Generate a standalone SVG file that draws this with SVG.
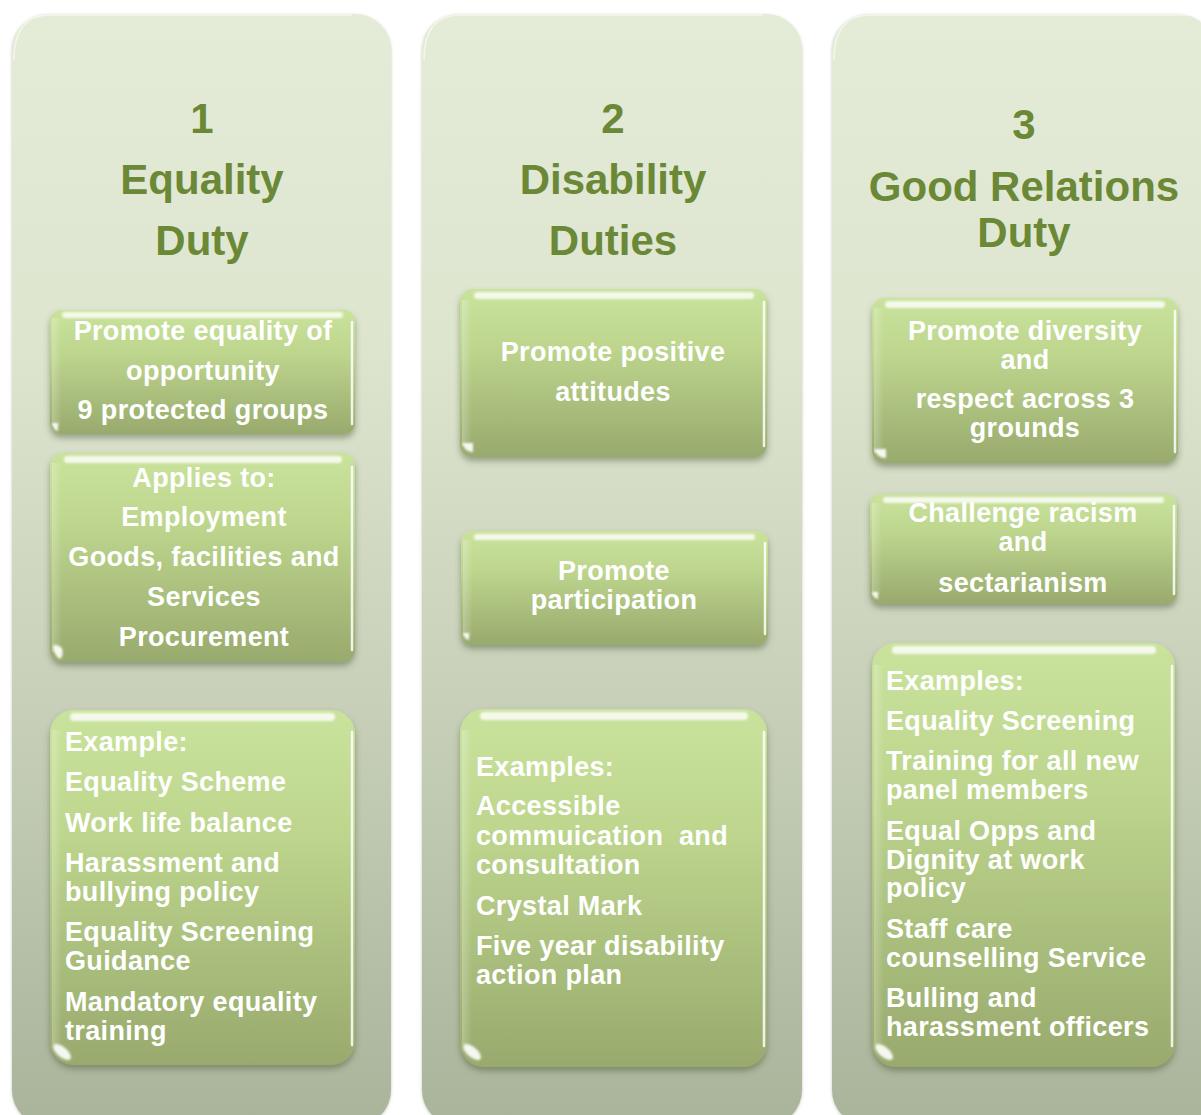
<svg xmlns="http://www.w3.org/2000/svg" width="1201" height="1115" viewBox="0 0 1201 1115">
  <defs>
    <!-- column panel: pale green fading to grey-green -->
    <linearGradient id="colGrad" x1="0" y1="0" x2="0" y2="1">
      <stop offset="0" stop-color="#e4ecd8"/>
      <stop offset="0.3" stop-color="#dde5cf"/>
      <stop offset="0.6" stop-color="#c9d1bb"/>
      <stop offset="1" stop-color="#a9b49b"/>
    </linearGradient>
    <!-- glossy lime box fill -->
    <linearGradient id="boxGrad" x1="0" y1="0" x2="0" y2="1">
      <stop offset="0" stop-color="#cae39c"/>
      <stop offset="0.35" stop-color="#bdd58d"/>
      <stop offset="1" stop-color="#98aa6d"/>
    </linearGradient>
    <linearGradient id="leftBand" x1="0" y1="0" x2="1" y2="0">
      <stop offset="0" stop-color="#ffffff" stop-opacity="0.25"/>
      <stop offset="1" stop-color="#ffffff" stop-opacity="0"/>
    </linearGradient>
    <filter id="colShadow" x="-5%" y="-5%" width="110%" height="110%">
      <feDropShadow dx="0" dy="1" stdDeviation="1.5" flood-color="#8a9678" flood-opacity="0.5"/>
    </filter>
    <filter id="boxShadow" x="-10%" y="-10%" width="120%" height="130%">
      <feDropShadow dx="0" dy="4" stdDeviation="3" flood-color="#44552a" flood-opacity="0.45"/>
    </filter>
    <filter id="soft" x="-20%" y="-50%" width="140%" height="200%">
      <feGaussianBlur stdDeviation="1.2"/>
    </filter>
  </defs>
  <style>
    .col { fill: url(#colGrad); filter: url(#colShadow); }
    .colEdge { fill: none; stroke: #ffffff; stroke-opacity: 0.55; stroke-width: 1.5; }
    .title { font-family: "Liberation Sans", Arial, sans-serif; font-weight: bold; font-size: 42px; fill: #6b8837; text-anchor: middle; }
    .fill { fill: url(#boxGrad); filter: url(#boxShadow); }
    .band { fill: url(#leftBand); }
    .gloss { fill: #ffffff; fill-opacity: 0.8; filter: url(#soft); }
    .edge { stroke: #ffffff; stroke-opacity: 0.85; stroke-width: 2.5; stroke-linecap: round; fill: none; }
    .spot { fill: #ffffff; fill-opacity: 0.9; filter: url(#soft); }
    .t { font-family: "Liberation Sans", Arial, sans-serif; font-weight: bold; font-size: 27px; letter-spacing: 0.35px; fill: #ffffff; }
    .c { text-anchor: middle; }
  </style>

  <!-- three duty columns -->
  <g id="column-1">
    <rect class="col" x="12" y="14" width="379" height="1112" rx="36"/>
    <path class="colEdge" d="M14 60 Q14 15 50 15 L352 15"/>
    <text class="title" x="202" y="133">1</text>
    <text class="title" x="202" y="194">Equality</text>
    <text class="title" x="202" y="255">Duty</text>
  </g>
  <g id="column-2">
    <rect class="col" x="422" y="14" width="380" height="1112" rx="36"/>
    <path class="colEdge" d="M424 60 Q424 15 460 15 L763 15"/>
    <text class="title" x="613" y="133">2</text>
    <text class="title" x="613" y="194">Disability</text>
    <text class="title" x="613" y="255">Duties</text>
  </g>
  <g id="column-3">
    <rect class="col" x="832" y="14" width="382" height="1112" rx="36"/>
    <path class="colEdge" d="M834 60 Q834 15 870 15 L1201 15"/>
    <text class="title" x="1024" y="139">3</text>
    <text class="title" x="1024" y="201">Good Relations</text>
    <text class="title" x="1024" y="247">Duty</text>
  </g>

  <!-- column 1 boxes -->
  <g id="c1-protected-groups">
    <rect class="fill" x="50" y="310" width="305" height="124" rx="11"/>
    <rect class="band" x="52" y="318" width="10" height="108"/>
    <rect class="gloss" x="62" y="312" width="281" height="6" rx="3"/>
    <line class="edge" x1="352" y1="322" x2="352" y2="424"/>
    <path class="spot" d="M52 423 L58 423 L58 431 Q53 430 52 423 Z"/>
    <text class="t c" x="203" y="340">Promote equality of</text>
    <text class="t c" x="203" y="380">opportunity</text>
    <text class="t c" x="203" y="419">9 protected groups</text>
  </g>
  <g id="c1-applies-to">
    <rect class="fill" x="50" y="453" width="305" height="209" rx="13"/>
    <rect class="band" x="52" y="463" width="10" height="189"/>
    <rect class="gloss" x="64" y="456" width="278" height="7" rx="3.5"/>
    <line class="edge" x1="352" y1="467" x2="352" y2="650"/>
    <path class="spot" d="M53 646 Q56 643 62 648 Q64 656 60 659 Q54 656 53 646 Z"/>
    <text class="t c" x="204" y="487">Applies to:</text>
    <text class="t c" x="204" y="526">Employment</text>
    <text class="t c" x="204" y="566">Goods, facilities and</text>
    <text class="t c" x="204" y="606">Services</text>
    <text class="t c" x="204" y="646">Procurement</text>
  </g>
  <g id="c1-examples">
    <rect class="fill" x="50" y="710" width="305" height="355" rx="24"/>
    <rect class="band" x="52" y="730" width="10" height="315"/>
    <rect class="gloss" x="70" y="713" width="265" height="8" rx="4"/>
    <line class="edge" x1="352" y1="732" x2="352" y2="1045"/>
    <ellipse class="spot" cx="62" cy="1052" rx="11" ry="5" transform="rotate(40 62 1052)"/>
    <text class="t" x="65" y="751">Example:</text>
    <text class="t" x="65" y="791">Equality Scheme</text>
    <text class="t" x="65" y="832">Work life balance</text>
    <text class="t" x="65" y="872">Harassment and</text>
    <text class="t" x="65" y="901">bullying policy</text>
    <text class="t" x="65" y="941">Equality Screening</text>
    <text class="t" x="65" y="970">Guidance</text>
    <text class="t" x="65" y="1011">Mandatory equality</text>
    <text class="t" x="65" y="1040">training</text>
  </g>

  <!-- column 2 boxes -->
  <g id="c2-positive-attitudes">
    <rect class="fill" x="460" y="289" width="307" height="168" rx="13"/>
    <rect class="band" x="462" y="300" width="10" height="146"/>
    <rect class="gloss" x="474" y="292" width="280" height="7" rx="3.5"/>
    <line class="edge" x1="764" y1="302" x2="764" y2="446"/>
    <path class="spot" d="M462 443 L473 443 L473 452 Q465 452 462 443 Z"/>
    <text class="t c" x="613" y="361">Promote positive</text>
    <text class="t c" x="613" y="401">attitudes</text>
  </g>
  <g id="c2-participation">
    <rect class="fill" x="461" y="531" width="307" height="114" rx="11"/>
    <rect class="band" x="463" y="540" width="10" height="96"/>
    <rect class="gloss" x="474" y="534" width="281" height="6" rx="3"/>
    <line class="edge" x1="765" y1="543" x2="765" y2="634"/>
    <path class="spot" d="M463 633 L469 633 L469 640 Q464 639 463 633 Z"/>
    <text class="t c" x="614" y="580">Promote</text>
    <text class="t c" x="614" y="609">participation</text>
  </g>
  <g id="c2-examples">
    <rect class="fill" x="460" y="709" width="307" height="358" rx="24"/>
    <rect class="band" x="462" y="730" width="10" height="315"/>
    <rect class="gloss" x="480" y="712" width="268" height="8" rx="4"/>
    <line class="edge" x1="764" y1="732" x2="764" y2="1046"/>
    <ellipse class="spot" cx="472" cy="1052" rx="11" ry="5" transform="rotate(40 472 1052)"/>
    <text class="t" x="476" y="776">Examples:</text>
    <text class="t" x="476" y="815">Accessible</text>
    <text class="t" x="476" y="845" xml:space="preserve">commuication  and</text>
    <text class="t" x="476" y="874">consultation</text>
    <text class="t" x="476" y="915">Crystal Mark</text>
    <text class="t" x="476" y="955">Five year disability</text>
    <text class="t" x="476" y="984">action plan</text>
  </g>

  <!-- column 3 boxes -->
  <g id="c3-diversity">
    <rect class="fill" x="872" y="298" width="306" height="165" rx="13"/>
    <rect class="band" x="874" y="308" width="10" height="145"/>
    <rect class="gloss" x="885" y="301" width="280" height="7" rx="3.5"/>
    <line class="edge" x1="1175" y1="311" x2="1175" y2="452"/>
    <path class="spot" d="M874 449 L886 449 L886 458 Q877 458 874 449 Z"/>
    <text class="t c" x="1025" y="340">Promote diversity</text>
    <text class="t c" x="1025" y="369">and</text>
    <text class="t c" x="1025" y="408">respect across 3</text>
    <text class="t c" x="1025" y="437">grounds</text>
  </g>
  <g id="c3-racism">
    <rect class="fill" x="870" y="494" width="307" height="110" rx="11"/>
    <rect class="band" x="872" y="503" width="10" height="92"/>
    <rect class="gloss" x="883" y="497" width="281" height="6" rx="3"/>
    <line class="edge" x1="1174" y1="506" x2="1174" y2="594"/>
    <path class="spot" d="M872 592 L878 592 L878 599 Q873 598 872 592 Z"/>
    <text class="t c" x="1023" y="522">Challenge racism</text>
    <text class="t c" x="1023" y="551">and</text>
    <text class="t c" x="1023" y="592">sectarianism</text>
  </g>
  <g id="c3-examples">
    <rect class="fill" x="872" y="643" width="303" height="424" rx="24"/>
    <rect class="band" x="874" y="665" width="10" height="380"/>
    <rect class="gloss" x="892" y="646" width="264" height="8" rx="4"/>
    <line class="edge" x1="1172" y1="666" x2="1172" y2="1046"/>
    <ellipse class="spot" cx="884" cy="1052" rx="11" ry="5" transform="rotate(40 884 1052)"/>
    <text class="t" x="886" y="690">Examples:</text>
    <text class="t" x="886" y="730">Equality Screening</text>
    <text class="t" x="886" y="770">Training for all new</text>
    <text class="t" x="886" y="799">panel members</text>
    <text class="t" x="886" y="840">Equal Opps and</text>
    <text class="t" x="886" y="869">Dignity at work</text>
    <text class="t" x="886" y="897">policy</text>
    <text class="t" x="886" y="938">Staff care</text>
    <text class="t" x="886" y="967">counselling Service</text>
    <text class="t" x="886" y="1007">Bulling and</text>
    <text class="t" x="886" y="1036">harassment officers</text>
  </g>

  <!-- no connectors between the panels -->
  <g id="connectors"/>
</svg>
